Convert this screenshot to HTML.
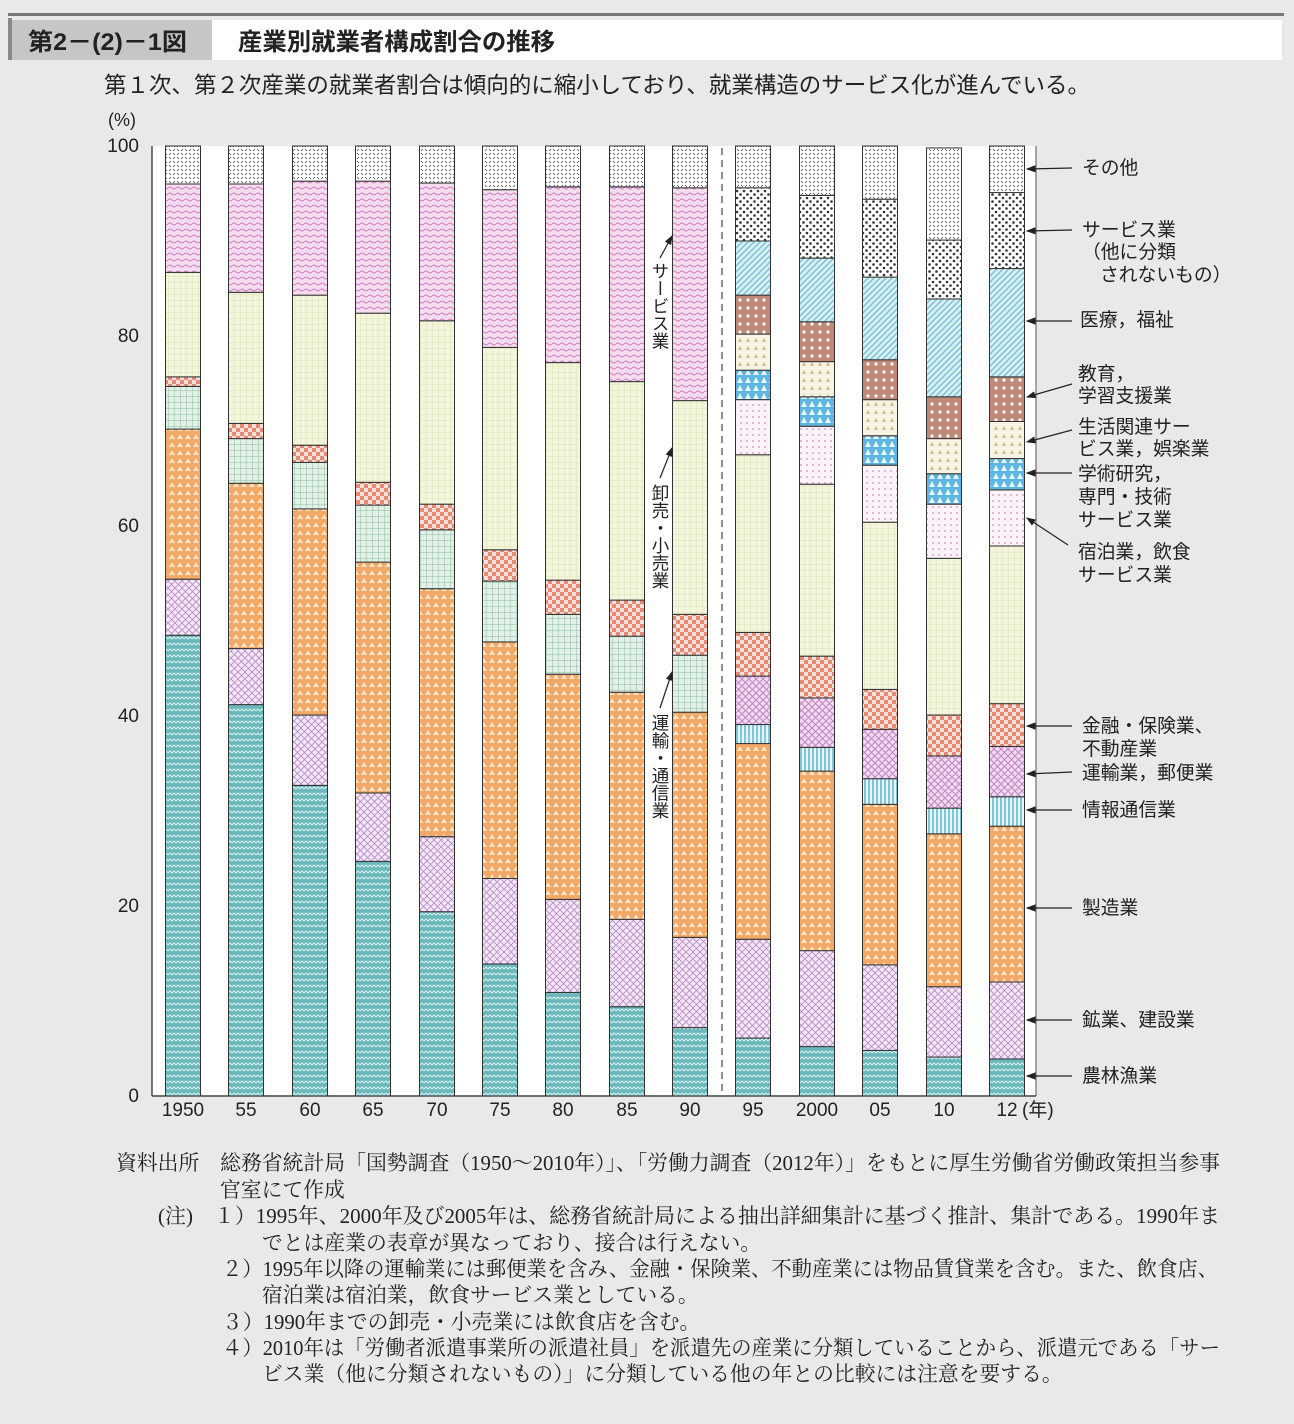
<!DOCTYPE html>
<html><head><meta charset="utf-8"><style>
body{margin:0;background:#e9e9e9;}
svg{display:block;}
text{font-family:"Liberation Sans","Noto Sans CJK JP",sans-serif;fill:#222;}
.n{font-family:"Liberation Serif","Noto Serif CJK SC",serif;font-size:20.8px;}
</style></head><body>
<svg id="s" width="1294" height="1424" viewBox="0 0 1294 1424" xmlns="http://www.w3.org/2000/svg">
<defs>
<pattern id="pAgri" width="8" height="6" patternUnits="userSpaceOnUse"><rect width="8" height="6" fill="#6bb8bb"/><path d="M0 3 L2 1 L4 3 L6 1 L8 3" stroke="#d8f0f0" stroke-width="1" fill="none"/></pattern>
<pattern id="pMin" width="7" height="7" patternUnits="userSpaceOnUse"><rect width="7" height="7" fill="#f3e8f5"/><path d="M0 0L7 7M7 0L0 7" stroke="#b98cc8" stroke-width="0.9"/></pattern>
<pattern id="pMan" width="8" height="8" patternUnits="userSpaceOnUse"><rect width="8" height="8" fill="#f2a866"/><path d="M1 7L4 2L7 7Z" fill="#fbe2c6"/></pattern>
<pattern id="pInfo" width="4" height="4" patternUnits="userSpaceOnUse"><rect width="4" height="4" fill="#e8f6fa"/><rect width="2" height="4" fill="#7fc6da"/></pattern>
<pattern id="pTr" width="7" height="7" patternUnits="userSpaceOnUse"><rect width="7" height="7" fill="#f1dcef"/><path d="M0 0L7 7M7 0L0 7" stroke="#c083c4" stroke-width="1"/></pattern>
<pattern id="pTrOld" width="6" height="6" patternUnits="userSpaceOnUse"><rect width="6" height="6" fill="#e2efe6"/><path d="M0 0H6M0 0V6" stroke="#8fbda2" stroke-width="1"/></pattern>
<pattern id="pFin" width="8" height="8" patternUnits="userSpaceOnUse"><rect width="8" height="8" fill="#fbe0d8"/><rect width="4" height="4" fill="#e68a78"/><rect x="4" y="4" width="4" height="4" fill="#e68a78"/></pattern>
<pattern id="pWh" width="6" height="6" patternUnits="userSpaceOnUse"><rect width="6" height="6" fill="#f3f5df"/><path d="M0 0H6M0 0V6" stroke="#d7dfa6" stroke-width="0.8"/></pattern>
<pattern id="pSvcOld" width="8" height="6" patternUnits="userSpaceOnUse"><rect width="8" height="6" fill="#f6dcef"/><path d="M0 2 Q2 0 4 2 T8 2" stroke="#d07fbf" stroke-width="1" fill="none"/></pattern>
<pattern id="pHot" width="6" height="6" patternUnits="userSpaceOnUse"><rect width="6" height="6" fill="#fdf3f8"/><circle cx="3" cy="3" r="1" fill="#dca3c6"/></pattern>
<pattern id="pAca" width="8" height="8" patternUnits="userSpaceOnUse"><rect width="8" height="8" fill="#5fb6e0"/><path d="M1 7L4 1L7 7Z" fill="#e6f5fb"/></pattern>
<pattern id="pLife" width="8" height="8" patternUnits="userSpaceOnUse"><rect width="8" height="8" fill="#f8f2e2"/><path d="M2 6L4 2L6 6Z" fill="#cbb98c"/></pattern>
<pattern id="pEdu" width="8" height="8" patternUnits="userSpaceOnUse"><rect width="8" height="8" fill="#c08a78"/><circle cx="4" cy="4" r="1.6" fill="#fff"/></pattern>
<pattern id="pMed" width="6" height="6" patternUnits="userSpaceOnUse"><rect width="6" height="6" fill="#dff1f6"/><path d="M-1 7L7 -1M-1 1L1 -1M5 7L7 5" stroke="#85c9dc" stroke-width="1.8"/></pattern>
<pattern id="pSvc" width="7" height="7" patternUnits="userSpaceOnUse"><rect width="7" height="7" fill="#fff"/><circle cx="2" cy="2" r="1.3" fill="#333"/><circle cx="5.5" cy="5.5" r="1.3" fill="#333"/></pattern>
<pattern id="pOth" width="8" height="8" patternUnits="userSpaceOnUse"><rect width="8" height="8" fill="#fff"/><path d="M1 3L3 1M5 7L7 5M5 1L7 3M1 5L3 7" stroke="#444" stroke-width="0.8"/></pattern>
<marker id="ar" markerWidth="8" markerHeight="8" refX="7" refY="4" orient="auto"><path d="M0 1L8 4L0 7Z" fill="#222"/></marker>
</defs>
<rect x="8" y="13" width="1276" height="3" fill="#777"/>
<rect x="8" y="18" width="4" height="42" fill="#888"/>
<rect x="12" y="20" width="200" height="40" fill="#c6c6c6"/>
<rect x="212" y="20" width="1070" height="40" fill="#fff"/>
<text x="28" y="50" font-size="24" font-weight="bold" textLength="159" lengthAdjust="spacingAndGlyphs">第2－(2)－1図</text>
<text x="238" y="50" font-size="24" font-weight="bold" textLength="317" lengthAdjust="spacingAndGlyphs">産業別就業者構成割合の推移</text>
<text x="104" y="93" font-size="22.5" textLength="986" lengthAdjust="spacingAndGlyphs">第１次、第２次産業の就業者割合は傾向的に縮小しており、就業構造のサービス化が進んでいる。</text>
<rect x="152" y="146" width="884" height="950" fill="#fff"/>
<line x1="1036" y1="146" x2="1036" y2="1096" stroke="#555" stroke-width="1"/>
<line x1="152" y1="146" x2="152" y2="1096" stroke="#222" stroke-width="1.2"/>
<line x1="152" y1="1096" x2="1036" y2="1096" stroke="#222" stroke-width="1.2"/>
<line x1="722" y1="148" x2="722" y2="1096" stroke="#222" stroke-width="1" stroke-dasharray="7,5"/>
<text x="122" y="126" font-size="18" text-anchor="middle">(%)</text>
<g font-size="19" text-anchor="end">
<text x="139" y="152">100</text><text x="139" y="342">80</text><text x="139" y="532">60</text><text x="139" y="722">40</text><text x="139" y="912">20</text><text x="139" y="1102">0</text>
</g>
<g font-size="19" text-anchor="middle">
<text x="183" y="1116">1950</text><text x="246" y="1116">55</text><text x="310" y="1116">60</text><text x="373" y="1116">65</text><text x="437" y="1116">70</text><text x="500" y="1116">75</text><text x="563" y="1116">80</text><text x="627" y="1116">85</text><text x="690" y="1116">90</text><text x="753" y="1116">95</text><text x="817" y="1116">2000</text><text x="880" y="1116">05</text><text x="944" y="1116">10</text><text x="1007" y="1116">12</text>
</g>
<text x="1022" y="1116" font-size="19">(年)</text>
<g id="bars"></g>
<g font-size="17.5">
<text x="660" y="262" writing-mode="tb">サービス業</text>
<text x="660" y="484" writing-mode="tb">卸売・小売業</text>
<text x="660" y="714" writing-mode="tb">運輸・通信業</text>
</g>
<g stroke="#222" stroke-width="1.2" fill="none">
<line x1="660" y1="258" x2="672" y2="236" marker-end="url(#ar)"/>
<line x1="660" y1="478" x2="672" y2="448" marker-end="url(#ar)"/>
<line x1="660" y1="708" x2="672" y2="672" marker-end="url(#ar)"/>
</g>
<g stroke="#222" stroke-width="1.2">
<line x1="1072" y1="168" x2="1027" y2="169" marker-end="url(#ar)"/>
<line x1="1072" y1="230" x2="1027" y2="231" marker-end="url(#ar)"/>
<line x1="1072" y1="321" x2="1027" y2="321" marker-end="url(#ar)"/>
<line x1="1072" y1="384" x2="1027" y2="397" marker-end="url(#ar)"/>
<line x1="1072" y1="430" x2="1027" y2="442" marker-end="url(#ar)"/>
<line x1="1072" y1="473" x2="1027" y2="473" marker-end="url(#ar)"/>
<line x1="1068" y1="545" x2="1027" y2="518" marker-end="url(#ar)"/>
<line x1="1072" y1="726" x2="1027" y2="726" marker-end="url(#ar)"/>
<line x1="1072" y1="772" x2="1027" y2="774" marker-end="url(#ar)"/>
<line x1="1072" y1="810" x2="1027" y2="810" marker-end="url(#ar)"/>
<line x1="1072" y1="908" x2="1027" y2="908" marker-end="url(#ar)"/>
<line x1="1072" y1="1020" x2="1027" y2="1020" marker-end="url(#ar)"/>
<line x1="1072" y1="1076" x2="1027" y2="1076" marker-end="url(#ar)"/>
</g>
<g font-size="18.8">
<text x="1082" y="174">その他</text>
<text x="1082" y="236">サービス業</text>
<text x="1082" y="258">（他に分類</text>
<text x="1100" y="281">されないもの）</text>
<text x="1080" y="326">医療，福祉</text>
<text x="1078" y="380">教育，</text>
<text x="1078" y="402">学習支援業</text>
<text x="1078" y="433">生活関連サー</text>
<text x="1078" y="455">ビス業，娯楽業</text>
<text x="1078" y="480">学術研究，</text>
<text x="1078" y="503">専門・技術</text>
<text x="1078" y="526">サービス業</text>
<text x="1078" y="558">宿泊業，飲食</text>
<text x="1078" y="581">サービス業</text>
<text x="1082" y="732">金融・保険業、</text>
<text x="1082" y="755">不動産業</text>
<text x="1082" y="779">運輸業，郵便業</text>
<text x="1082" y="816">情報通信業</text>
<text x="1082" y="914">製造業</text>
<text x="1082" y="1026">鉱業、建設業</text>
<text x="1082" y="1082">農林漁業</text>
</g>
<text class="n" x="116" y="1170" textLength="1104" lengthAdjust="spacingAndGlyphs">資料出所　総務省統計局「国勢調査（1950～2010年）」、「労働力調査（2012年）」をもとに厚生労働省労働政策担当参事</text>
<text class="n" x="220" y="1197">官室にて作成</text>
<text class="n" x="158" y="1223" textLength="1062" lengthAdjust="spacingAndGlyphs">(注)　１）1995年、2000年及び2005年は、総務省統計局による抽出詳細集計に基づく推計、集計である。1990年ま</text>
<text class="n" x="262" y="1250">でとは産業の表章が異なっており、接合は行えない。</text>
<text class="n" x="222" y="1276" textLength="996" lengthAdjust="spacingAndGlyphs">２）1995年以降の運輸業には郵便業を含み、金融・保険業、不動産業には物品賃貸業を含む。また、飲食店、</text>
<text class="n" x="262" y="1302">宿泊業は宿泊業，飲食サービス業としている。</text>
<text class="n" x="222" y="1329">３）1990年までの卸売・小売業には飲食店を含む。</text>
<text class="n" x="222" y="1355" textLength="998" lengthAdjust="spacingAndGlyphs">４）2010年は「労働者派遣事業所の派遣社員」を派遣先の産業に分類していることから、派遣元である「サー</text>
<text class="n" x="262" y="1381">ビス業（他に分類されないもの）」に分類している他の年との比較には注意を要する。</text>
</svg>
<script>
var oldP=["pAgri","pMin","pMan","pTrOld","pFin","pWh","pSvcOld","pOth"];
var newP=["pAgri","pMin","pMan","pInfo","pTr","pFin","pWh","pHot","pAca","pLife","pEdu","pMed","pSvc","pOth"];
var data=[
[183,[48.5,54.4,70.2,74.7,75.7,86.7,96,100]],
[246,[41.2,47.1,64.5,69.2,70.8,84.6,96,100]],
[310,[32.7,40.1,61.8,66.7,68.5,84.3,96.3,100]],
[373,[24.7,31.9,56.2,62.2,64.6,82.4,96.3,100]],
[437,[19.4,27.3,53.4,59.6,62.3,81.6,96.1,100]],
[500,[13.9,22.9,47.8,54.2,57.5,78.8,95.4,100]],
[563,[10.9,20.7,44.4,50.7,54.3,77.2,95.7,100]],
[627,[9.4,18.6,42.5,48.4,52.2,75.2,95.7,100]],
[690,[7.2,16.7,40.4,46.4,50.7,73.2,95.6,100]],
[753,[6.1,16.5,37.1,39.1,44.2,48.8,67.5,73.3,76.4,80.2,84.3,90.0,95.6,100]],
[817,[5.2,15.3,34.2,36.7,41.9,46.3,64.4,70.5,73.6,77.3,81.5,88.2,94.8,100]],
[880,[4.8,13.8,30.7,33.4,38.6,42.8,60.4,66.4,69.5,73.3,77.5,86.2,94.4,100]],
[944,[4.1,11.5,27.6,30.3,35.8,40.1,56.6,62.3,65.5,69.2,73.6,83.9,90.1,99.8]],
[1007,[3.9,12.0,28.4,31.5,36.8,41.3,57.9,63.8,67.1,71.0,75.7,87.1,95.1,100]]];
var g=document.getElementById("bars"),h="";
function Y(v){return 1096-v*9.5;}
data.forEach(function(d){var cx=d[0],v=d[1],P=v.length==8?oldP:newP,prev=0;
v.forEach(function(t,i){var y1=Y(t),y0=Y(prev);
h+='<rect x="'+(cx-17.5)+'" y="'+y1+'" width="35" height="'+(y0-y1)+'" fill="url(#'+P[i]+')" stroke="#333" stroke-width="1"/>';prev=t;});});
g.innerHTML=h;
</script>
</body></html>
